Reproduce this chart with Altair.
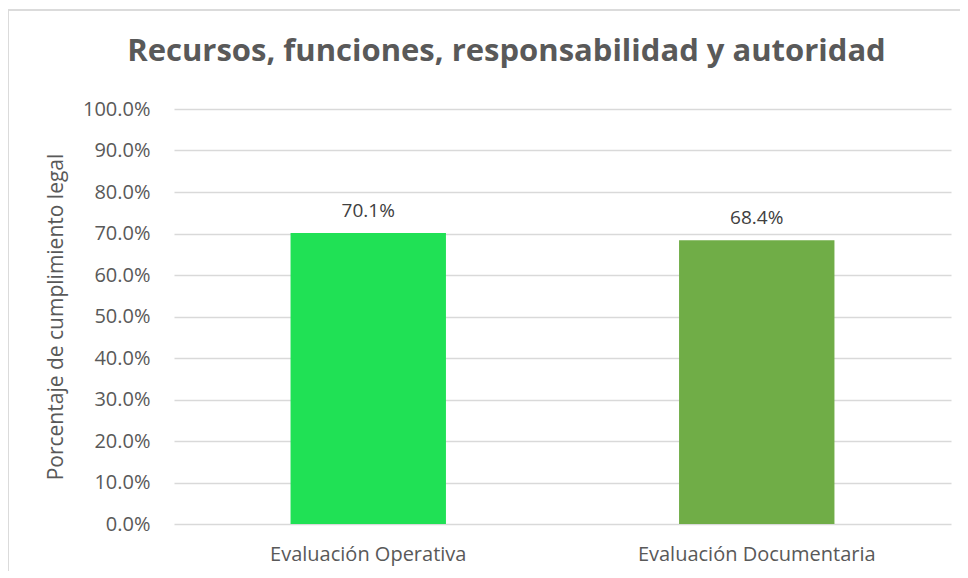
import altair as alt
import pandas as pd

categories = ["Evaluación Operativa", "Evaluación Documentaria"]
values = [0.701, 0.684]
colors = ["#20E155", "#70AD47"]

df = pd.DataFrame({"cat": categories, "val": values, "color": colors})

FONT = "Open Sans"
GREY = "#595959"

x = alt.X("cat:N", sort=categories, title=None,
          scale=alt.Scale(paddingInner=0.6, paddingOuter=0.3),
          axis=alt.Axis(labelAngle=0, labelFontSize=20, labelColor=GREY, labelFont=FONT,
                        ticks=False, domain=False, labelPadding=20, labelLimit=500, grid=False))
y = alt.Y("val:Q", title="Porcentaje de cumplimiento legal",
          scale=alt.Scale(domain=[0, 1], nice=False),
          axis=alt.Axis(format=".1%", values=[i / 10 for i in range(11)],
                        labelFontSize=20, labelColor=GREY, labelFont=FONT,
                        titleFontSize=21, titleColor=GREY, titleFont=FONT, titleFontWeight="normal",
                        titlePadding=16, labelPadding=24,
                        ticks=False, domain=False, grid=True, gridColor="#D9D9D9", gridWidth=1.5))

base = alt.Chart(df)
bars = base.mark_bar().encode(x=x, y=y, color=alt.Color("color:N", scale=None))
labels = base.mark_text(baseline="bottom", dy=-12, fontSize=19, font=FONT, color="#404040").encode(
    x=alt.X("cat:N", sort=categories), y="val:Q",
    text=alt.Text("val:Q", format=".1%"))

border_top = alt.Chart(df).mark_rule(color="#D9D9D9", strokeWidth=1.5).encode(
    x=alt.value(-166), x2=alt.value(800), y=alt.value(-99))
border_left = alt.Chart(df).mark_rule(color="#D9D9D9", strokeWidth=1.5).encode(
    x=alt.value(-166), y=alt.value(-99), y2=alt.value(470))

chart = alt.layer(border_top, border_left, bars, labels).properties(
    width=777, height=415,
    background="white",
    title=alt.TitleParams("Recursos, funciones, responsabilidad y autoridad",
                          fontSize=31, font=FONT, fontWeight="bold", color=GREY,
                          anchor="middle", dx=-56, offset=-59, frame="group"),
    autosize=alt.AutoSizeParams(type="none"),
    padding={"left": 166, "top": 101, "right": 9, "bottom": 47},
).configure_view(stroke="transparent", strokeWidth=0)

chart.save("out.html", embed_options={"renderer": "svg", "actions": False})
